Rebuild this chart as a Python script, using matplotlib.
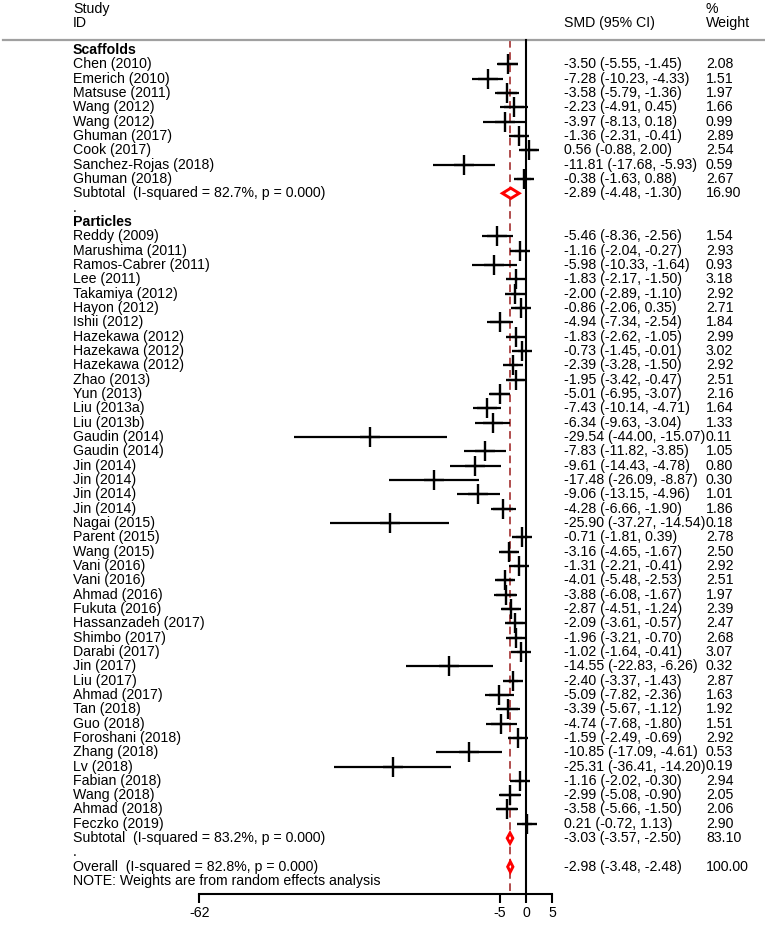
import numpy as np
import matplotlib.pyplot as plt
from matplotlib.patches import Polygon

plt.rcParams['font.family'] = ['Liberation Sans', 'DejaVu Sans']

# Scaffolds subgroup
scaf_names = ['Chen (2010)', 'Emerich (2010)', 'Matsuse (2011)', 'Wang (2012)', 'Wang (2012)',
              'Ghuman (2017)', 'Cook (2017)', 'Sanchez-Rojas (2018)', 'Ghuman (2018)']
scaf_smd = [-3.50, -7.28, -3.58, -2.23, -3.97, -1.36, 0.56, -11.81, -0.38]
scaf_lo = [-5.55, -10.23, -5.79, -4.91, -8.13, -2.31, -0.88, -17.68, -1.63]
scaf_hi = [-1.45, -4.33, -1.36, 0.45, 0.18, -0.41, 2.00, -5.93, 0.88]
scaf_w = [2.08, 1.51, 1.97, 1.66, 0.99, 2.89, 2.54, 0.59, 2.67]

# Particles subgroup
part_names = ['Reddy (2009)', 'Marushima (2011)', 'Ramos-Cabrer (2011)', 'Lee (2011)', 'Takamiya (2012)',
              'Hayon (2012)', 'Ishii (2012)', 'Hazekawa (2012)', 'Hazekawa (2012)', 'Hazekawa (2012)',
              'Zhao (2013)', 'Yun (2013)', 'Liu (2013a)', 'Liu (2013b)', 'Gaudin (2014)',
              'Gaudin (2014)', 'Jin (2014)', 'Jin (2014)', 'Jin (2014)', 'Jin (2014)',
              'Nagai (2015)', 'Parent (2015)', 'Wang (2015)', 'Vani (2016)', 'Vani (2016)',
              'Ahmad (2016)', 'Fukuta (2016)', 'Hassanzadeh (2017)', 'Shimbo (2017)', 'Darabi (2017)',
              'Jin (2017)', 'Liu (2017)', 'Ahmad (2017)', 'Tan (2018)', 'Guo (2018)',
              'Foroshani (2018)', 'Zhang (2018)', 'Lv (2018)', 'Fabian (2018)', 'Wang (2018)',
              'Ahmad (2018)', 'Feczko (2019)']
part_smd = [-5.46, -1.16, -5.98, -1.83, -2.00, -0.86, -4.94, -1.83, -0.73, -2.39,
            -1.95, -5.01, -7.43, -6.34, -29.54, -7.83, -9.61, -17.48, -9.06, -4.28,
            -25.90, -0.71, -3.16, -1.31, -4.01, -3.88, -2.87, -2.09, -1.96, -1.02,
            -14.55, -2.40, -5.09, -3.39, -4.74, -1.59, -10.85, -25.31, -1.16, -2.99,
            -3.58, 0.21]
part_lo = [-8.36, -2.04, -10.33, -2.17, -2.89, -2.06, -7.34, -2.62, -1.45, -3.28,
           -3.42, -6.95, -10.14, -9.63, -44.00, -11.82, -14.43, -26.09, -13.15, -6.66,
           -37.27, -1.81, -4.65, -2.21, -5.48, -6.08, -4.51, -3.61, -3.21, -1.64,
           -22.83, -3.37, -7.82, -5.67, -7.68, -2.49, -17.09, -36.41, -2.02, -5.08,
           -5.66, -0.72]
part_hi = [-2.56, -0.27, -1.64, -1.50, -1.10, 0.35, -2.54, -1.05, -0.01, -1.50,
           -0.47, -3.07, -4.71, -3.04, -15.07, -3.85, -4.78, -8.87, -4.96, -1.90,
           -14.54, 0.39, -1.67, -0.41, -2.53, -1.67, -1.24, -0.57, -0.70, -0.41,
           -6.26, -1.43, -2.36, -1.12, -1.80, -0.69, -4.61, -14.20, -0.30, -0.90,
           -1.50, 1.13]
part_w = [1.54, 2.93, 0.93, 3.18, 2.92, 2.71, 1.84, 2.99, 3.02, 2.92,
          2.51, 2.16, 1.64, 1.33, 0.11, 1.05, 0.80, 0.30, 1.01, 1.86,
          0.18, 2.78, 2.50, 2.92, 2.51, 1.97, 2.39, 2.47, 2.68, 3.07,
          0.32, 2.87, 1.63, 1.92, 1.51, 2.92, 0.53, 0.19, 2.94, 2.05,
          2.06, 2.90]

# pooled estimates: scaffolds, particles, overall
pool_labels = ['Subtotal  (I-squared = 82.7%, p = 0.000)',
               'Subtotal  (I-squared = 83.2%, p = 0.000)',
               'Overall  (I-squared = 82.8%, p = 0.000)']
pool_smd = [-2.89, -3.03, -2.98]
pool_lo = [-4.48, -3.57, -3.48]
pool_hi = [-1.30, -2.50, -2.48]
pool_w = [16.90, 83.10, 100.00]

xticks = [-62, -5, 0, 5]
note = 'NOTE: Weights are from random effects analysis'

# layout: pixel of x=0, pixels per unit, first row pixel, pixels per row
X0, PXU = 526, 5.27
Y0, PXR = 50, 14.33
FS = 10.2

fig = plt.figure(figsize=(7.65, 9.25), dpi=100)
ax = fig.add_axes([0, 0, 1, 1])
ax.set_xlim((0 - X0) / PXU, (765 - X0) / PXU)
ax.set_ylim((925 - Y0) / PXR, (0 - Y0) / PXR)


def col(px):
    return (px - X0) / PXU


def row(py):
    return (py - Y0) / PXR


x_id, x_smd, x_w = col(73), col(564), col(706)
y_top = row(40)
y_axis = row(894)


def label(r, s, bold=False):
    ax.text(x_id, r, s, ha='left', va='center', fontsize=FS,
            fontweight='bold' if bold else 'normal')


def stats(r, e, lo, hi, w):
    ax.text(x_smd, r, f'{e:.2f} ({lo:.2f}, {hi:.2f})', ha='left', va='center', fontsize=FS)
    ax.text(x_w, r, f'{w:.2f}', ha='left', va='center', fontsize=FS)


def study(r, name, e, lo, hi, w):
    label(r, name)
    ax.hlines(r, lo, hi, color='black', lw=1.6, zorder=3)
    ax.plot(e, r, marker='+', ms=14, mew=1.7, color='black', zorder=3)
    stats(r, e, lo, hi, w)


def diamond(r, i):
    label(r, pool_labels[i])
    e, lo, hi = pool_smd[i], pool_lo[i], pool_hi[i]
    h = 0.36
    ax.add_patch(Polygon([[lo, r], [e, r - h], [hi, r], [e, r + h]], closed=True,
                         facecolor='white', edgecolor='red', lw=2.1, zorder=4))
    stats(r, e, lo, hi, pool_w[i])


# header
ax.text(x_id, row(8.5), 'Study', ha='left', va='center', fontsize=FS)
ax.text(x_id, row(22.5), 'ID', ha='left', va='center', fontsize=FS)
ax.text(x_smd, row(22.5), 'SMD (95% CI)', ha='left', va='center', fontsize=FS)
ax.text(x_w, row(8.5), '%', ha='left', va='center', fontsize=FS)
ax.text(x_w, row(22.5), 'Weight', ha='left', va='center', fontsize=FS)
ax.axhline(y_top, xmin=3 / 765, xmax=1, color='#a0a0a0', lw=1.6)

r = 0
label(r, 'Scaffolds', bold=True)
for i in range(len(scaf_names)):
    r += 1
    study(r, scaf_names[i], scaf_smd[i], scaf_lo[i], scaf_hi[i], scaf_w[i])
r += 1
diamond(r, 0)
r += 1
label(r, '.')
r += 1
label(r, 'Particles', bold=True)
for i in range(len(part_names)):
    r += 1
    study(r, part_names[i], part_smd[i], part_lo[i], part_hi[i], part_w[i])
r += 1
diamond(r, 1)
r += 1
label(r, '.')
r += 1
diamond(r, 2)
r += 1
label(r, note)

# reference lines
ax.plot([0, 0], [y_top, y_axis], color='black', lw=1.5, zorder=2)
ax.plot([pool_smd[2], pool_smd[2]], [y_top, y_axis], color='#9b1c1c', lw=1.1,
        ls=(0, (5, 3)), zorder=1)

# x axis
for s in ['top', 'left', 'right']:
    ax.spines[s].set_visible(False)
ax.spines['bottom'].set_position(('data', y_axis))
ax.spines['bottom'].set_bounds(xticks[0], xticks[-1])
ax.spines['bottom'].set_linewidth(1.5)
ax.set_xticks(xticks)
ax.set_xticklabels([str(t) for t in xticks])
ax.tick_params(axis='x', direction='out', length=6.5, width=1.5, pad=2, labelsize=FS)
ax.set_yticks([])

plt.savefig('out.png', dpi=100)
